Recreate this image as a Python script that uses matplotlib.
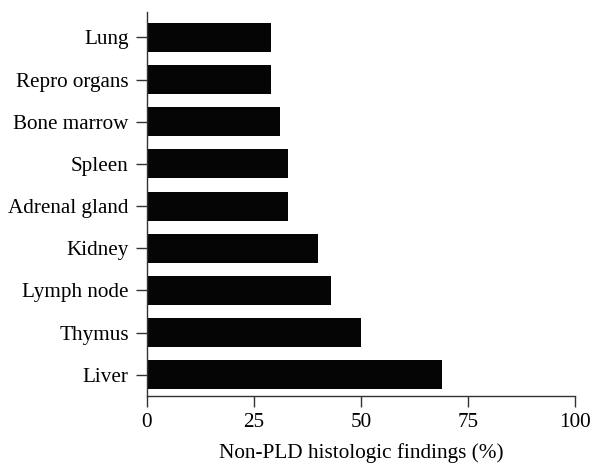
import matplotlib
matplotlib.use("Agg")
import matplotlib.pyplot as plt

categories = ["Liver", "Thymus", "Lymph node", "Kidney", "Adrenal gland",
              "Spleen", "Bone marrow", "Repro organs", "Lung"]
values = [69, 50, 43, 40, 33, 33, 31, 29, 29]
xticks = [0, 25, 50, 75, 100]

plt.rcParams['font.family'] = ['Liberation Serif', 'DejaVu Serif']

fig = plt.figure(figsize=(5.92, 4.63), dpi=100)
ax = fig.add_axes([0.248, 0.145, 0.723, 0.829])

ax.barh(range(len(categories)), values, height=0.69, color="#050505")
ax.set_yticks(range(len(categories)))
ax.set_yticklabels(categories)
ax.set_xticks(xticks)
ax.set_xlim(0, 100)
ax.set_ylim(-0.5, len(categories) - 0.4)

for s in ["top", "right"]:
    ax.spines[s].set_visible(False)
for s in ["left", "bottom"]:
    ax.spines[s].set_color("#333333")
    ax.spines[s].set_linewidth(1.0)

ax.tick_params(axis="both", direction="out", length=8, width=1.0,
               color="#333333", labelsize=15.2)
ax.tick_params(axis="y", pad=5)
ax.tick_params(axis="x", pad=4)
ax.set_xlabel("Non-PLD histologic findings (%)", fontsize=15.3, labelpad=8)

fig.savefig("out.png", dpi=100)
